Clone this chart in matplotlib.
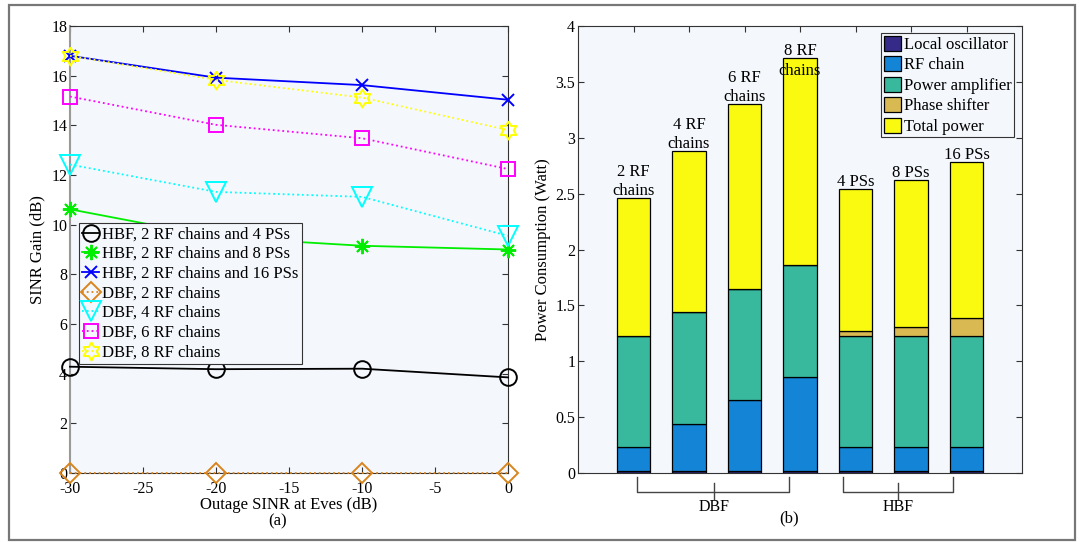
import numpy as np
import matplotlib
matplotlib.use("Agg")
import matplotlib.pyplot as plt
from matplotlib.patches import Rectangle
from matplotlib.ticker import FormatStrFormatter
import matplotlib.transforms as mtransforms

plt.rcParams['font.family'] = ['Liberation Serif', 'DejaVu Serif']
plt.rcParams['axes.unicode_minus'] = False

# ---- data, panel (a) ----
outage_sinr = [-30, -20, -10, 0]
hbf_4ps = [4.28, 4.18, 4.20, 3.85]
hbf_8ps = [10.62, 9.50, 9.15, 9.00]
hbf_16ps = [16.80, 15.92, 15.62, 15.03]
dbf_2rf = [0.0, 0.0, 0.0, 0.0]
dbf_4rf = [12.42, 11.32, 11.12, 9.55]
dbf_6rf = [15.16, 14.02, 13.48, 12.24]
dbf_8rf = [16.80, 15.83, 15.12, 13.81]
labels_a = ['HBF, 2 RF chains and 4 PSs', 'HBF, 2 RF chains and 8 PSs',
            'HBF, 2 RF chains and 16 PSs', 'DBF, 2 RF chains',
            'DBF, 4 RF chains', 'DBF, 6 RF chains', 'DBF, 8 RF chains']

# ---- data, panel (b) ----
bar_labels = ['2 RF\nchains', '4 RF\nchains', '6 RF\nchains', '8 RF\nchains',
              '4 PSs', '8 PSs', '16 PSs']
local_osc = [0.02, 0.02, 0.02, 0.02, 0.02, 0.02, 0.02]
rf_chain = [0.21, 0.42, 0.63, 0.84, 0.21, 0.21, 0.21]
power_amp = [1.0, 1.0, 1.0, 1.0, 1.0, 1.0, 1.0]
phase_shift = [0.0, 0.0, 0.0, 0.0, 0.04, 0.08, 0.16]
total_power = [2.46, 2.88, 3.30, 3.71, 2.54, 2.62, 2.78]
labels_b = ['Local oscillator', 'RF chain', 'Power amplifier', 'Phase shifter', 'Total power']
colors_b = ['#352A87', '#1384D6', '#38B99E', '#D8B952', '#F9FA10']

bg = '#F4F7FC'
spine_c = '#333333'

# hexagram marker like matlab
ang = np.pi / 2 + np.arange(12) * np.pi / 6
rad = np.where(np.arange(12) % 2 == 0, 1.0, 1 / np.sqrt(3))
hexagram = list(zip(rad * np.cos(ang), rad * np.sin(ang)))
hexagram.append(hexagram[0])

fig = plt.figure(figsize=(10.83, 5.42), dpi=100)

# outer frame
fig.patches.append(Rectangle((9 / 1083, 2 / 542), 1066 / 1083, 535 / 542,
                             transform=fig.transFigure, fill=False,
                             edgecolor='#777777', lw=1.6))

# ================= panel (a) =================
ax1 = fig.add_axes([70 / 1083, 69 / 542, 438 / 1083, 447 / 542])
ax1.set_facecolor(bg)
styles = [
    (hbf_4ps, 'k', '-', 'o', 12),
    (hbf_8ps, '#00EE00', '-', (8, 2, 0), 11),
    (hbf_16ps, '#0000FF', '-', 'x', 9),
    (dbf_2rf, '#D9841C', ':', 'D', 10),
    (dbf_4rf, '#00FFFF', ':', 'v', 14),
    (dbf_6rf, '#FF00FF', ':', 's', 10),
    (dbf_8rf, '#FFFF00', ':', hexagram, 13),
]
for (vals, c, ls, mk, ms), lab in zip(styles, labels_a):
    ax1.plot(outage_sinr, vals, color=c, ls=ls, lw=1.3, marker=mk, ms=ms,
             mfc='none', mec=c, mew=1.4, label=lab, clip_on=False, zorder=3)

ax1.set_xlim(-30, 0)
ax1.set_ylim(0, 18)
ax1.set_xticks(np.arange(-30, 1, 5))
ax1.set_yticks(np.arange(0, 19, 2))
ax1.tick_params(direction='in', top=True, right=True, labelsize=11.5,
                length=4, color=spine_c)
ax1.tick_params(axis='x', pad=6)
ax1.tick_params(axis='y', pad=2)
for s in ax1.spines.values():
    s.set_color(spine_c)
ax1.spines['left'].set_color('#999999')
ax1.spines['left'].set_linewidth(1.5)
ax1.set_xlabel('Outage SINR at Eves (dB)', fontsize=12, labelpad=0)
ax1.set_ylabel('SINR Gain (dB)', fontsize=12, labelpad=4)
leg1 = ax1.legend(loc='upper left', bbox_to_anchor=(0.02, 0.56), borderaxespad=0,
                  fontsize=12, handlelength=1.0, handletextpad=0.15,
                  labelspacing=0.22, borderpad=0.22, fancybox=False,
                  framealpha=1, facecolor=bg, edgecolor=spine_c)
leg1.get_frame().set_linewidth(0.8)
fig.text(278 / 1083, 1 - 521 / 542, '(a)', fontsize=12, ha='center', va='center')

# ================= panel (b) =================
ax2 = fig.add_axes([578 / 1083, 69 / 542, 444 / 1083, 447 / 542])
ax2.set_facecolor(bg)
xpos = np.arange(1, len(total_power) + 1)
remaining = (np.array(total_power) - np.array(local_osc) - np.array(rf_chain)
             - np.array(power_amp) - np.array(phase_shift))
segments = [local_osc, rf_chain, power_amp, phase_shift, remaining]
bottom = np.zeros(len(xpos))
for seg, c, lab in zip(segments, colors_b, labels_b):
    ax2.bar(xpos, seg, width=0.6, bottom=bottom, color=c, edgecolor='black',
            lw=0.9, label=lab, zorder=2)
    bottom = bottom + np.array(seg)

for xi, tot, txt in zip(xpos, total_power, bar_labels):
    ax2.text(xi, min(tot - 0.01, 3.53), txt, ha='center', va='bottom',
             fontsize=12, linespacing=1.3, zorder=4)

ax2.set_xlim(0, 8)
ax2.set_ylim(0, 4)
ax2.set_xticks(xpos)
ax2.set_xticklabels([])
ax2.set_yticks(np.arange(0, 4.01, 0.5))
ax2.yaxis.set_major_formatter(FormatStrFormatter('%g'))
ax2.tick_params(direction='in', top=True, right=True, labelsize=11.5,
                length=4, color=spine_c, pad=2)
for s in ax2.spines.values():
    s.set_color(spine_c)
ax2.set_ylabel('Power Consumption (Watt)', fontsize=12, labelpad=3)
leg2 = ax2.legend(loc='upper right', bbox_to_anchor=(0.982, 0.984), borderaxespad=0,
                  fontsize=12, handlelength=1.05, handleheight=1.0,
                  handletextpad=0.15, labelspacing=0.2, borderpad=0.15,
                  fancybox=False, framealpha=1, facecolor=bg, edgecolor=spine_c)
leg2.get_frame().set_linewidth(0.8)

# group brackets under the bars
trans = mtransforms.blended_transform_factory(ax2.transData, ax2.transAxes)
brackets = [(1.06, 3.80, 2.45, 'DBF'), (4.77, 6.76, 5.77, 'HBF')]
for x0, x1, xm, name in brackets:
    ax2.plot([x0, x0, x1, x1], [-0.009, -0.0425, -0.0425, -0.009], color='#444444',
             lw=1.0, transform=trans, clip_on=False)
    ax2.plot([xm, xm], [-0.022, -0.058], color='#444444', lw=1.0,
             transform=trans, clip_on=False)
    ax2.text(xm, -0.075, name, transform=trans, ha='center', va='center', fontsize=11.5)
fig.text(789 / 1083, 1 - 518 / 542, '(b)', fontsize=12, ha='center', va='center')

fig.savefig('out.png', dpi=100)
